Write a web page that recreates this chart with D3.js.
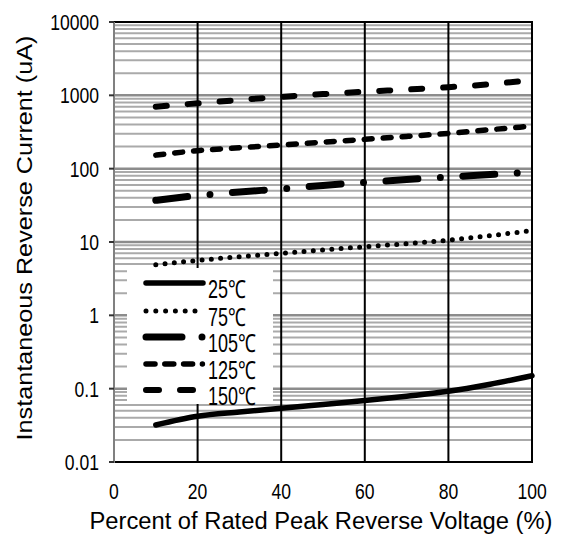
<!DOCTYPE html>
<html>
<head>
<meta charset="utf-8">
<script src="https://cdn.jsdelivr.net/npm/d3@7"></script>
<style>
  html, body { margin: 0; padding: 0; background: #fff; }
  svg { display: block; }
  text { font-family: "Liberation Sans", Arial, sans-serif; fill: #000; }
</style>
</head>
<body>
<svg id="chart" width="565" height="537"></svg>
<script>
// ---- data ----
const voltagePct = [10, 20, 30, 40, 50, 60, 70, 80, 90, 100];
const current25C  = [0.032, 0.042, 0.048, 0.054, 0.061, 0.069, 0.079, 0.092, 0.115, 0.150];
const current75C  = [4.9, 5.6, 6.3, 7.0, 7.8, 8.6, 9.5, 10.6, 12.2, 14.3];
const current105C = [37, 43, 48, 53, 59, 65, 71, 77, 83, 90];
const current125C = [153, 176, 193, 210, 230, 251, 275, 303, 340, 380];
const current150C = [700, 778, 865, 955, 1040, 1120, 1200, 1290, 1420, 1620];
const seriesNames = ["25℃", "75℃", "105℃", "125℃", "150℃"];
const xTicks = [0, 20, 40, 60, 80, 100];
const yTicks = [0.01, 0.1, 1, 10, 100, 1000, 10000];
const yTickLabels = ["0.01", "0.1", "1", "10", "100", "1000", "10000"];
const xTitle = "Percent of Rated Peak Reverse Voltage (%)";
const yTitle = "Instantaneous Reverse Current (uA)";

// ---- styles ----
const styles = [
  { width: 5.5, dash: null },
  { width: 5, dash: "0 9.3" },
  { width: 7, dash: "32 22.5 0 22.5" },
  { width: 5.5, dash: "8 11" },
  { width: 6, dash: "11 21" }
];
const seriesValues = [current25C, current75C, current105C, current125C, current150C];

const svg = d3.select("#chart");
const L = 114, R = 532, T = 22, B = 462;
const x = d3.scaleLinear().domain([0, 100]).range([L, R]);
const y = d3.scaleLog().domain([0.01, 10000]).range([B, T]);

// minor horizontal gridlines
const minor = [];
for (let e = -2; e < 4; e++) for (let m = 2; m <= 9; m++) minor.push(m * Math.pow(10, e));
svg.append("g").selectAll("line").data(minor).join("line")
  .attr("x1", L + 1).attr("x2", R)
  .attr("y1", d => y(d)).attr("y2", d => y(d))
  .attr("stroke", "#aaaaaa").attr("stroke-width", 2);
// decade lines
svg.append("g").selectAll("line").data(yTicks.slice(1, -1)).join("line")
  .attr("x1", L + 1).attr("x2", R)
  .attr("y1", d => y(d)).attr("y2", d => y(d))
  .attr("stroke", "#8c8c8c").attr("stroke-width", 2.5);

// vertical gridlines
svg.append("g").selectAll("line").data(xTicks.slice(1, -1)).join("line")
  .attr("x1", d => x(d)).attr("x2", d => x(d))
  .attr("y1", T).attr("y2", B)
  .attr("stroke", "#000").attr("stroke-width", 2);

// frame
svg.append("line").attr("x1", L).attr("x2", R + 1).attr("y1", T).attr("y2", T).attr("stroke", "#000").attr("stroke-width", 2);
svg.append("line").attr("x1", L).attr("x2", R + 1).attr("y1", B).attr("y2", B).attr("stroke", "#000").attr("stroke-width", 2);
svg.append("line").attr("x1", R).attr("x2", R).attr("y1", T).attr("y2", B).attr("stroke", "#000").attr("stroke-width", 2);
svg.append("line").attr("x1", L).attr("x2", L).attr("y1", T).attr("y2", B + 1).attr("stroke", "#808080").attr("stroke-width", 2);

// y ticks
svg.append("g").selectAll("line").data(yTicks).join("line")
  .attr("x1", L - 5).attr("x2", L)
  .attr("y1", d => y(d)).attr("y2", d => y(d))
  .attr("stroke", "#333").attr("stroke-width", 2);

// y tick labels
svg.append("g").selectAll("text").data(yTicks).join("text")
  .attr("transform", d => `translate(${L - 15},${y(d) + 8}) scale(0.78,1)`)
  .attr("text-anchor", "end").attr("font-size", 22.5)
  .text((d, i) => yTickLabels[i]);

// x tick labels
svg.append("g").selectAll("text").data(xTicks).join("text")
  .attr("transform", d => `translate(${x(d)},${B + 37}) scale(0.78,1)`)
  .attr("text-anchor", "middle").attr("font-size", 22.5)
  .text(d => d);

// axis titles
svg.append("text")
  .attr("x", 321).attr("y", 529)
  .attr("text-anchor", "middle").attr("font-size", 23)
  .attr("textLength", 463).attr("lengthAdjust", "spacingAndGlyphs")
  .text(xTitle);
svg.append("text")
  .attr("transform", "translate(32,238) rotate(-90)")
  .attr("text-anchor", "middle").attr("font-size", 22.5)
  .attr("textLength", 405).attr("lengthAdjust", "spacingAndGlyphs")
  .text(yTitle);

// series
const line = d3.line().x(d => x(d[0])).y(d => y(d[1])).curve(d3.curveMonotoneX);
seriesValues.forEach((vals, i) => {
  const pts = voltagePct.map((v, j) => [v, vals[j]]);
  svg.append("path").datum(pts)
    .attr("d", line)
    .attr("fill", "none").attr("stroke", "#000")
    .attr("stroke-width", styles[i].width)
    .attr("stroke-linecap", "round")
    .attr("stroke-dasharray", styles[i].dash);
});

// legend
const lg = svg.append("g");
lg.append("rect").attr("x", 127).attr("y", 268).attr("width", 146).attr("height", 136).attr("fill", "#fff");
const legendY = [283, 311, 337, 364, 390];
const legendDash = [null, "0 9.8", "36 20 0 20", "9 9.8 9 9.8 9 9.8 0", "13 21 13"];
seriesNames.forEach((name, i) => {
  lg.append("line")
    .attr("x1", 146).attr("x2", 203)
    .attr("y1", legendY[i]).attr("y2", legendY[i])
    .attr("stroke", "#000").attr("stroke-width", styles[i].width)
    .attr("stroke-linecap", "round")
    .attr("stroke-dasharray", legendDash[i]);
  lg.append("text")
    .attr("transform", `translate(208,${legendY[i] + 15}) scale(0.72,1)`)
    .attr("font-size", 25)
    .text(name);
});
</script>
</body>
</html>
